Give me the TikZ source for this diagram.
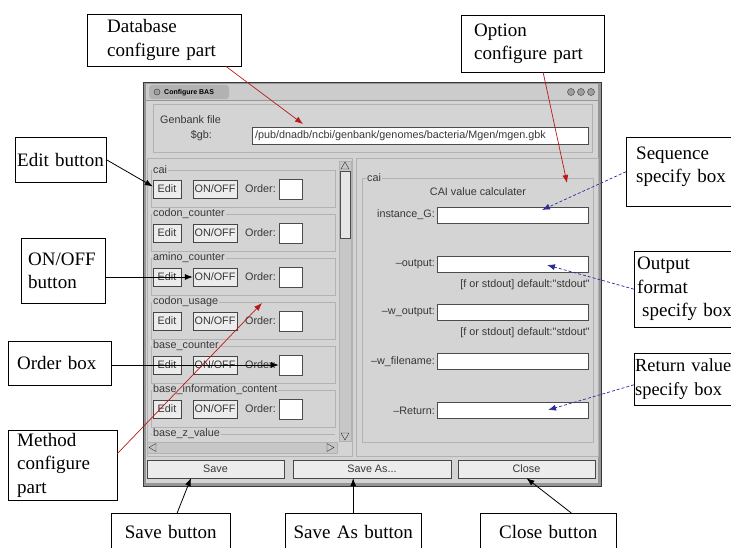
\documentclass[tikz,border=0pt]{standalone}
\usepackage{fontspec}
\setmainfont{Liberation Serif}
\newfontfamily\guifont{Liberation Sans}
\usetikzlibrary{arrows.meta}

\definecolor{winbg}{RGB}{212,212,212}
\definecolor{winedge}{RGB}{150,150,150}
\definecolor{guitext}{RGB}{55,55,55}
\definecolor{tagred}{RGB}{185,25,25}
\definecolor{tagblue}{RGB}{45,45,150}

\begin{document}
\begin{tikzpicture}[x=1pt, y=-1pt,
    note/.style={draw, fill=white, anchor=north west, align=left, inner ysep=0pt,
      font=\fontsize{19}{23.5}\selectfont},
    gui/.style={inner sep=0pt, text=guitext, font=\guifont\fontsize{10.8}{13}\selectfont},
    guibtn/.style={gui, draw=gray!55!black, fill=winbg!45!white, minimum height=18pt},
    field/.style={draw=gray!60!black, fill=white, inner sep=0pt},
    paneline/.style={draw=gray!60},
    tip/.style={-{Latex[length=8pt,width=6pt]}},
    blacktag/.style={tip, black, line width=0.8pt},
    redtag/.style={tip, tagred, line width=0.7pt},
    bluetag/.style={tip, tagblue, line width=0.7pt, densely dashed}
  ]
  \useasboundingbox (0,0) rectangle (731,548);
  \clip (0,0) rectangle (731,548);
  \fill[white] (0,0) rectangle (731,548);

  % window
  \draw[gray!45!black, fill=winedge] (143,82) rectangle (601,486);
  \fill[gray!40] (146,84) rectangle (598,100);
  \fill[winbg] (146,101) rectangle (598,483);
  \fill[gray!60, rounded corners=3pt] (149,85) rectangle (229,99);
  \draw[gray!40!black, fill=gray!75] (157,92) circle (3);
  \node[inner sep=0pt, anchor=west, font=\guifont\bfseries\fontsize{7}{8}\selectfont] (title) at (164,92.5) {Configure BAS};
  \foreach \cx in {571,581,591}
    \draw[gray!45!black, fill=gray!75] (\cx,92) circle (3.5);

  % genbank part
  \draw[paneline] (153,104) rectangle (592,152);
  \node[gui, anchor=west] (gblabel) at (160,120) {Genbank file};
  \node[gui, anchor=east] (gbkey) at (212,135.5) {\$gb:};
  \node[field, minimum width=336pt, minimum height=17pt, anchor=west] (gbfield) at (252,135.5) {};
  \node[gui, anchor=west] (gbpath) at (255,135.5) {/pub/dnadb/ncbi/genbank/genomes/bacteria/Mgen/mgen.gbk};

  % method list
  \draw[paneline] (147,158) rectangle (352,456);
  \foreach \name [count=\i from 0] in {cai, codon\_counter, amino\_counter, codon\_usage, base\_counter, base\_information\_content} {
    \draw[paneline] (151,170+44*\i) rectangle (335,207+44*\i);
    \node[gui, fill=winbg, anchor=west, inner xsep=1pt] at (152,170+44*\i) {\name};
    \node[guibtn, minimum width=28pt] (edit\i) at (167,189+44*\i) {Edit};
    \node[guibtn, minimum width=44pt] (onoff\i) at (215,189+44*\i) {ON/OFF};
    \node[gui, anchor=east] at (276,189+44*\i) {Order:};
    \node[field, minimum width=23pt, minimum height=20pt] (order\i) at (290.5,189+44*\i) {};
  }
  \draw[paneline] (151,434) -- (335,434);
  \node[gui, fill=winbg, anchor=west, inner xsep=1pt] (zvalue) at (152,434) {base\_z\_value};
  % scrollbars
  \draw[paneline, fill=winbg!85!gray] (339,161) rectangle (351,441);
  \draw[gray!60!black, fill=winbg!60!white] (340,171) rectangle (350,238);
  \draw[gray!40!black] (341,169) -- (345,162) -- (349,169) -- cycle;
  \draw[gray!40!black] (341,433) -- (349,433) -- (345,440) -- cycle;
  \draw[paneline, fill=winbg!85!gray] (147,442) rectangle (337,453);
  \draw[gray!40!black] (156,443.5) -- (149,447.5) -- (156,451.5) -- cycle;
  \draw[gray!40!black] (327,443.5) -- (334,447.5) -- (327,451.5) -- cycle;

  % option part
  \draw[paneline] (356,158) rectangle (598,456);
  \draw[paneline] (362,178) rectangle (593,442);
  \node[gui, fill=winbg, anchor=west, inner xsep=1pt] (caihead) at (366,178) {cai};
  \node[gui] (caititle) at (478,192) {CAI value calculater};
  \foreach \lab/\y [count=\k] in {instance\_G:/215, –output:/264.5, –w\_output:/312.5, –w\_filename:/361.5, –Return:/410.5} {
    \node[gui, anchor=east] at (435,\y) {\lab};
    \node[field, minimum width=151pt, minimum height=16pt, anchor=west] (opt\k) at (437,\y) {};
  }
  \node[gui, anchor=east] (hint1) at (590,285) {[f or stdout] default:"stdout"};
  \node[gui, anchor=east] (hint2) at (590,333) {[f or stdout] default:"stdout"};

  % bottom buttons
  \node[guibtn, minimum width=137pt] (guisave) at (215.5,469) {Save};
  \node[guibtn, minimum width=158pt] (guisaveas) at (372,469) {Save As...};
  \node[guibtn, minimum width=137pt] (guiclose) at (526.5,469) {Close};

  % notes
  \node[note, inner xsep=20pt, text width=114pt, minimum height=52pt] (dbnote) at (87,14) {Database\\configure part};
  \node[note, inner xsep=13pt, text width=117pt, minimum height=57pt] (optnote) at (461,15) {Option\\configure part};
  \node[note, inner xsep=2pt, text width=87pt, minimum height=45pt] (editnote) at (15,137) {Edit button};
  \node[note, inner xsep=7pt, text width=70pt, minimum height=65pt] (onoffnote) at (21,238) {ON/OFF\\button};
  \node[note, inner xsep=9pt, text width=85pt, minimum height=44pt] (ordernote) at (8,341) {Order box};
  \node[note, inner xsep=9pt, text width=91pt, minimum height=70pt] (methodnote) at (8,430) {Method\\configure\\part};
  \node[note, inner xsep=10pt, text width=94pt, minimum height=69pt] (seqnote) at (626,137) {Sequence\\specify box\\[-10pt]\mbox{}};
  \node[note, inner xsep=3pt, text width=100pt, minimum height=76pt] (outnote) at (634,251) {Output\\format\\\hspace*{5pt}specify box};
  \node[note, inner xsep=1pt, text width=104pt, minimum height=52pt, font=\fontsize{18.4}{23.5}\selectfont] (retnote) at (634,353) {Return value\\specify box};
  \node[note, align=center, inner xsep=1pt, text width=117pt, minimum height=37pt] (savenote) at (111,513) {Save button};
  \node[note, align=center, inner xsep=1pt, text width=134pt, minimum height=37pt] (saveasnote) at (285,513) {Save As button};
  \node[note, align=center, inner xsep=1pt, text width=134pt, minimum height=37pt] (closenote) at (480,513) {Close button};

  % arrow ends
  \coordinate (dbtip) at (303,124);
  \coordinate (opttip) at (567,183);
  \coordinate (methodtip) at (262,303);
  \coordinate (seqtip) at (542,210);
  \coordinate (outtip) at (547,265);
  \coordinate (rettip) at (548,410);
  \coordinate (savetip) at (191,478);

  \draw[redtag] (dbnote.-23) -- (dbtip);
  \draw[redtag] (optnote.-70) -- (opttip);
  \draw[blacktag] (editnote.east) -- (edit0.170);
  \draw[blacktag] (onoffnote.east |- onoff2) -- (onoff2.west);
  \draw[blacktag] (ordernote.east |- order4) -- (order4.west);
  \draw[redtag] (methodnote.12) -- (methodtip);
  \draw[bluetag] (seqnote.west) -- (seqtip);
  \draw[bluetag] (outnote.west) -- (outtip);
  \draw[bluetag] (retnote.186) -- (rettip);
  \draw[blacktag] (savenote.71) -- (savetip);
  \draw[blacktag] (saveasnote.north) -- (saveasnote.north |- guisaveas.south);
  \draw[blacktag] (closenote.39) -- (guiclose.south);
\end{tikzpicture}
\end{document}
